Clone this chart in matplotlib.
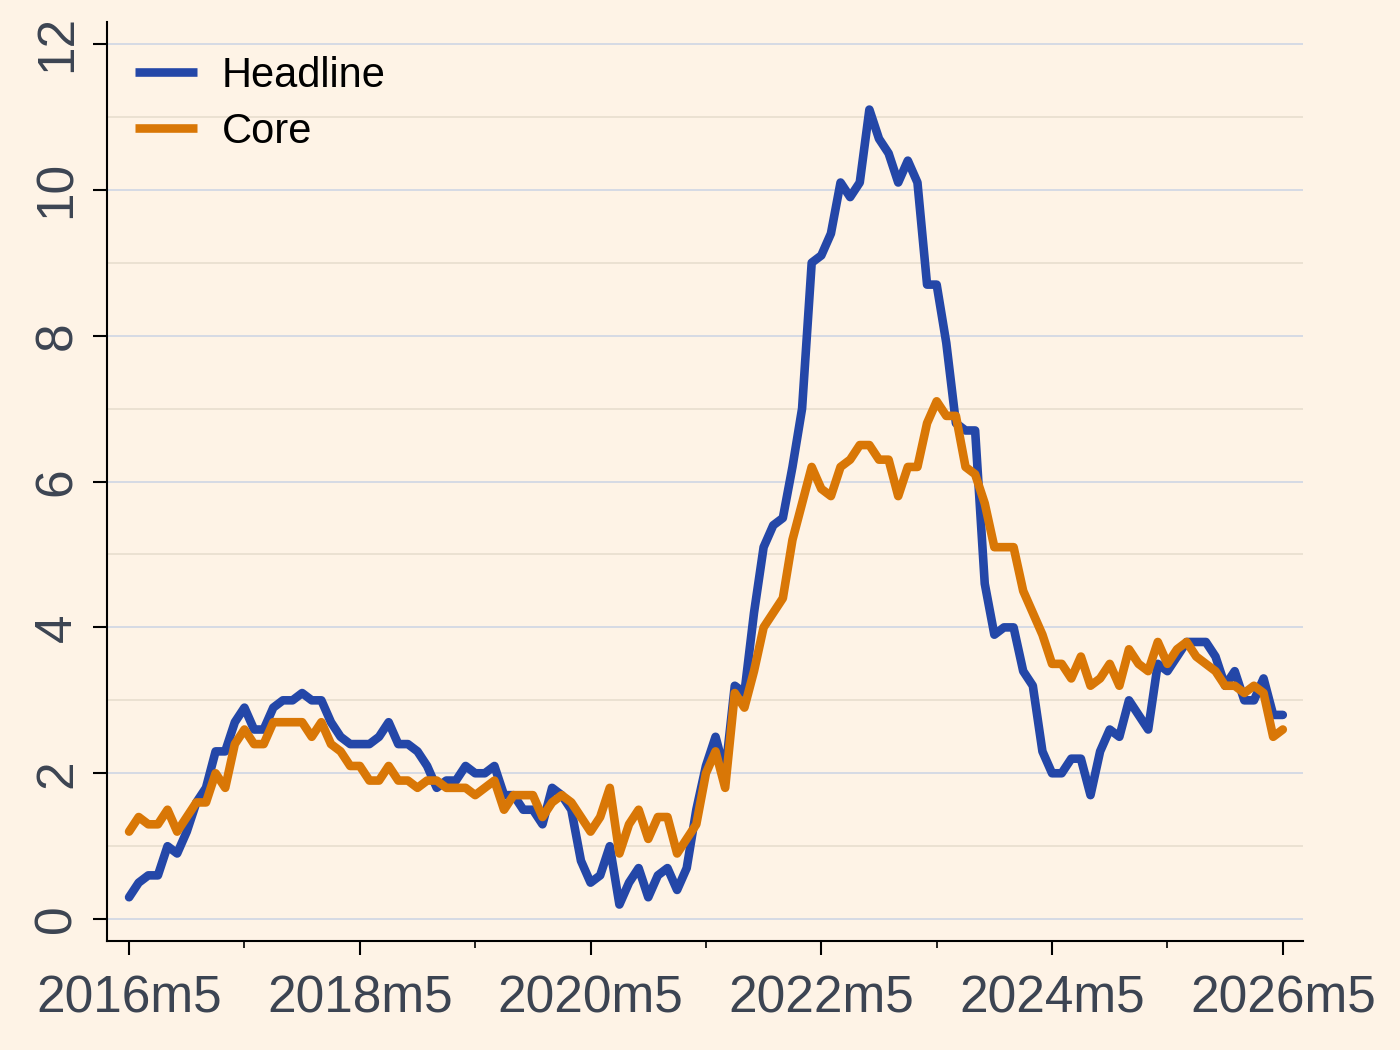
import numpy as np
import matplotlib
matplotlib.use('Agg')
import matplotlib.pyplot as plt

plt.rcParams['font.family'] = ['Liberation Sans', 'DejaVu Sans']

# monthly annual inflation rates, 2016m5 .. 2026m5
headline = [
    0.3, 0.5, 0.6, 0.6, 1.0, 0.9, 1.2, 1.6,
    1.8, 2.3, 2.3, 2.7, 2.9, 2.6, 2.6, 2.9, 3.0, 3.0, 3.1, 3.0,
    3.0, 2.7, 2.5, 2.4, 2.4, 2.4, 2.5, 2.7, 2.4, 2.4, 2.3, 2.1,
    1.8, 1.9, 1.9, 2.1, 2.0, 2.0, 2.1, 1.7, 1.7, 1.5, 1.5, 1.3,
    1.8, 1.7, 1.5, 0.8, 0.5, 0.6, 1.0, 0.2, 0.5, 0.7, 0.3, 0.6,
    0.7, 0.4, 0.7, 1.5, 2.1, 2.5, 2.0, 3.2, 3.1, 4.2, 5.1, 5.4,
    5.5, 6.2, 7.0, 9.0, 9.1, 9.4, 10.1, 9.9, 10.1, 11.1, 10.7, 10.5,
    10.1, 10.4, 10.1, 8.7, 8.7, 7.9, 6.8, 6.7, 6.7, 4.6, 3.9, 4.0,
    4.0, 3.4, 3.2, 2.3, 2.0, 2.0, 2.2, 2.2, 1.7, 2.3, 2.6, 2.5,
    3.0, 2.8, 2.6, 3.5, 3.4, 3.6, 3.8, 3.8, 3.8, 3.6, 3.2, 3.4,
    3.0, 3.0, 3.3, 2.8, 2.8,
]
core = [
    1.2, 1.4, 1.3, 1.3, 1.5, 1.2, 1.4, 1.6,
    1.6, 2.0, 1.8, 2.4, 2.6, 2.4, 2.4, 2.7, 2.7, 2.7, 2.7, 2.5,
    2.7, 2.4, 2.3, 2.1, 2.1, 1.9, 1.9, 2.1, 1.9, 1.9, 1.8, 1.9,
    1.9, 1.8, 1.8, 1.8, 1.7, 1.8, 1.9, 1.5, 1.7, 1.7, 1.7, 1.4,
    1.6, 1.7, 1.6, 1.4, 1.2, 1.4, 1.8, 0.9, 1.3, 1.5, 1.1, 1.4,
    1.4, 0.9, 1.1, 1.3, 2.0, 2.3, 1.8, 3.1, 2.9, 3.4, 4.0, 4.2,
    4.4, 5.2, 5.7, 6.2, 5.9, 5.8, 6.2, 6.3, 6.5, 6.5, 6.3, 6.3,
    5.8, 6.2, 6.2, 6.8, 7.1, 6.9, 6.9, 6.2, 6.1, 5.7, 5.1, 5.1,
    5.1, 4.5, 4.2, 3.9, 3.5, 3.5, 3.3, 3.6, 3.2, 3.3, 3.5, 3.2,
    3.7, 3.5, 3.4, 3.8, 3.5, 3.7, 3.8, 3.6, 3.5, 3.4, 3.2, 3.2,
    3.1, 3.2, 3.1, 2.5, 2.6,
]
x_labels = ['2016m5', '2018m5', '2020m5', '2022m5', '2024m5', '2026m5']
y_ticks = [0, 2, 4, 6, 8, 10, 12]

bg = '#fef3e6'
blue = '#2447a8'
orange = '#d97706'
text_col = '#3c4452'

months = np.arange(len(headline))

fig = plt.figure(figsize=(14, 10.5), dpi=100, facecolor=bg)
ax = fig.add_axes([0.0764, 0.1038, 0.8543, 0.8752], facecolor=bg)

ax.plot(months, headline, color=blue, lw=6.2, label='Headline',
        solid_joinstyle='round', solid_capstyle='round')
ax.plot(months, core, color=orange, lw=6.2, label='Core',
        solid_joinstyle='round', solid_capstyle='round')

ax.set_xlim(-2.3, 122.1)
ax.set_ylim(-0.3, 12.3)

ax.set_xticks(np.arange(0, 121, 24))
ax.set_xticklabels(x_labels)
ax.set_xticks(np.arange(12, 120, 24), minor=True)
ax.set_yticks(y_ticks)
ax.set_yticklabels([str(v) for v in y_ticks], rotation=90, va='center')
ax.set_yticks(np.arange(1, 12, 2), minor=True)

ax.tick_params(axis='both', which='major', length=10, width=1.5,
               labelsize=37, labelcolor=text_col)
ax.tick_params(axis='x', which='major', pad=14)
ax.tick_params(axis='y', which='major', pad=8)
ax.tick_params(axis='x', which='minor', length=5, width=1.2)
ax.tick_params(axis='y', which='minor', length=0)

ax.grid(axis='y', which='major', color='#d2d8e4', lw=1.3)
ax.grid(axis='y', which='minor', color='#e6dccd', lw=1.1)
ax.set_axisbelow(True)

for side in ('top', 'right'):
    ax.spines[side].set_visible(False)
for side in ('left', 'bottom'):
    ax.spines[side].set_linewidth(1.5)

leg = ax.legend(loc='upper left', bbox_to_anchor=(0.0234, 0.963), frameon=False,
                fontsize=30, handlelength=1.5, handletextpad=0.58,
                labelspacing=0.38, borderpad=0, borderaxespad=0)
for line in leg.get_lines():
    line.set_solid_capstyle('butt')

fig.savefig('out.png', dpi=100, facecolor=bg)
